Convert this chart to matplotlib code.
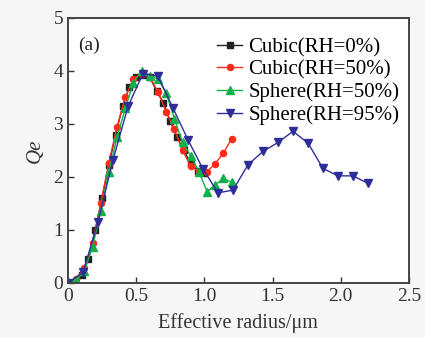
import matplotlib
matplotlib.use("Agg")
import matplotlib.pyplot as plt
import numpy as np

# Cubic(RH=0%)
x_cub0 = [0, 0.05, 0.10, 0.15, 0.20, 0.25, 0.30, 0.35, 0.40, 0.45, 0.50,
          0.55, 0.60, 0.65, 0.70, 0.75, 0.80, 0.85, 0.90, 0.95, 1.00]
q_cub0 = [0, 0.02, 0.15, 0.45, 1.0, 1.6, 2.23, 2.8, 3.33, 3.7, 3.88,
          3.92, 3.88, 3.62, 3.4, 3.05, 2.75, 2.5, 2.25, 2.12, 2.08]

# Cubic(RH=50%)
x_cub50 = [0, 0.06, 0.12, 0.18, 0.24, 0.30, 0.36, 0.42, 0.48, 0.54, 0.60,
           0.66, 0.72, 0.78, 0.84, 0.90, 0.96, 1.02, 1.08, 1.14, 1.20]
q_cub50 = [0, 0.08, 0.28, 0.75, 1.5, 2.27, 2.95, 3.5, 3.85, 3.95, 3.88,
           3.6, 3.23, 2.9, 2.5, 2.2, 2.1, 2.1, 2.25, 2.45, 2.72]

# Sphere(RH=50%)
x_sph50 = [0, 0.06, 0.12, 0.18, 0.24, 0.30, 0.36, 0.42, 0.48, 0.54, 0.60,
           0.66, 0.72, 0.78, 0.84, 0.90, 0.96, 1.02, 1.08, 1.14, 1.20]
q_sph50 = [0, 0.05, 0.22, 0.68, 1.35, 2.1, 2.75, 3.3, 3.78, 4.0, 3.9,
           3.85, 3.58, 3.1, 2.65, 2.4, 2.1, 1.72, 1.85, 1.97, 1.9]

# Sphere(RH=95%)
x_sph95 = [0, 0.11, 0.22, 0.33, 0.44, 0.55, 0.66, 0.77, 0.88, 0.99, 1.10,
           1.21, 1.32, 1.43, 1.54, 1.65, 1.76, 1.87, 1.98, 2.09, 2.20]
q_sph95 = [0, 0.2, 1.15, 2.32, 3.33, 3.95, 3.9, 3.3, 2.7, 2.15, 1.7,
           1.75, 2.23, 2.48, 2.65, 2.86, 2.64, 2.16, 2.02, 2.02, 1.88]

labels = ["Cubic(RH=0%)", "Cubic(RH=50%)", "Sphere(RH=50%)", "Sphere(RH=95%)"]
xticks = [0, 0.5, 1.0, 1.5, 2.0, 2.5]
xticklabels = ["0", "0.5", "1.0", "1.5", "2.0", "2.5"]
yticks = [0, 1, 2, 3, 4, 5]

plt.rcParams['font.family'] = ['Liberation Serif', 'DejaVu Serif']

fig = plt.figure(figsize=(4.25, 3.38), dpi=100, facecolor='#f6f6f6')
ax = fig.add_axes([0.16, 0.163, 0.802, 0.784])
ax.set_facecolor('white')

ax.plot(x_cub0, q_cub0, color='#222222', marker='s', ms=4.0, lw=1.0, label=labels[0])
ax.plot(x_cub50, q_cub50, color='#ff2a1a', marker='o', ms=4.4, lw=1.0, label=labels[1])
ax.plot(x_sph50, q_sph50, color='#12b04a', marker='^', ms=5.3, lw=1.0, label=labels[2])
ax.plot(x_sph95, q_sph95, color='#2e2e9a', marker='v', ms=5.3, lw=1.0, label=labels[3])

ax.set_xlim(0, 2.5)
ax.set_ylim(0, 5)
ax.set_xticks(xticks)
ax.set_xticklabels(xticklabels)
ax.set_yticks(yticks)
ax.tick_params(direction='in', length=4, width=1, labelsize=14, colors='#333333')
for s in ax.spines.values():
    s.set_color('#444444')
    s.set_linewidth(1.4)

ax.set_xlabel("Effective radius/\u03bcm", fontsize=14.5, color='#333333', labelpad=6)
ax.set_ylabel("Qe", fontsize=15, style='italic', color='#333333', labelpad=6)
ax.text(0.03, 0.88, "(a)", transform=ax.transAxes, fontsize=14, color='#222222')

leg = ax.legend(loc='upper left', bbox_to_anchor=(0.425, 0.942), frameon=False,
                fontsize=15, handlelength=1.2, handletextpad=0.3, labelspacing=0.14,
                borderpad=0.2, borderaxespad=0)

fig.savefig("out.png", dpi=100, facecolor=fig.get_facecolor())
